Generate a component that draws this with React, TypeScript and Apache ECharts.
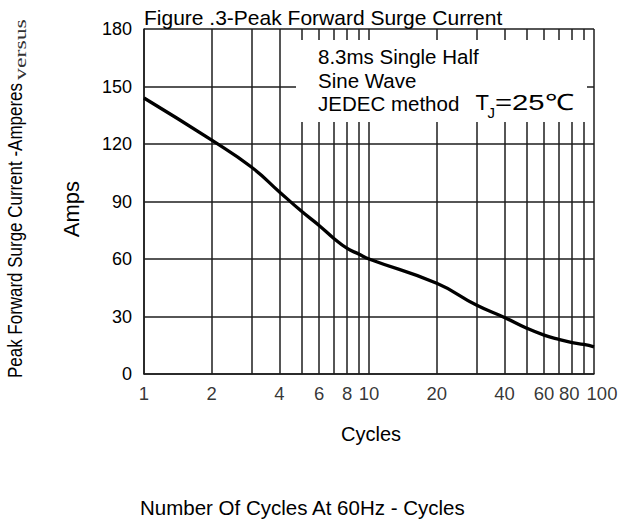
import React, { useEffect, useRef } from 'react';
import * as echarts from 'echarts';

// ---- data ----
const cycles = [1, 2, 3, 4, 5, 6, 7, 8, 9, 10, 20, 30, 40, 50, 60, 70, 80, 90, 100];
const amps = [144, 122, 108, 95, 85, 77.5, 70.6, 65.5, 62.6, 60, 47.3, 36, 29.5, 24, 20.3, 18, 16.4, 15.4, 14.2];
const minorGridCycles = [2, 3, 4, 5, 6, 7, 8, 9, 20, 30, 40, 50, 60, 70, 80, 90];
const xTickLabels = [1, 2, 4, 6, 8, 10, 20, 40, 60, 80, 100];
const yMin = 0;
const yMax = 180;
const yStep = 30;

const titleText = 'Figure .3-Peak Forward Surge Current';
const noteLines = ['8.3ms Single Half', 'Sine Wave', 'JEDEC method'];
const tjMain = 'T';
const tjSub = 'J';
const tjValue = '=25℃';
const yName = 'Amps';
const xName = 'Cycles';
const leftLabel = 'Peak Forward Surge Current -Amperes';
const leftLabelTail = 'versus';
const bottomLabel = 'Number Of Cycles At 60Hz - Cycles';

const FONT = "'Liberation Sans', Arial, Helvetica, sans-serif";
const SERIF = "'Liberation Serif', 'Times New Roman', serif";
const INK = '#000';
const GRID = '#1e1e1e';

export default function App() {
  const ref = useRef<HTMLDivElement>(null);

  useEffect(() => {
    if (!ref.current) return;
    const chart = echarts.init(ref.current, undefined, { renderer: 'svg' });

    const labelOffset = (v: number) => (v === 100 ? [8, 0] : v === 80 ? [-3, 0] : [0, 0]);

    const option: any = {
      animation: false,
      backgroundColor: '#fff',
      grid: { left: 144, right: 27, top: 29, bottom: 148, containLabel: false },
      xAxis: {
        type: 'log',
        logBase: 10,
        min: 1,
        max: 100,
        axisLine: { show: true, lineStyle: { color: GRID, width: 1.5 } },
        axisTick: { show: false },
        axisLabel: { show: false },
        splitLine: { show: true, lineStyle: { color: GRID, width: 1.5 } },
        minorTick: { show: false },
        minorSplitLine: { show: false },
      },
      yAxis: {
        type: 'value',
        min: yMin,
        max: yMax,
        interval: yStep,
        axisLine: { show: true, lineStyle: { color: GRID, width: 1.5 } },
        axisTick: { show: false },
        axisLabel: { color: INK, fontSize: 18, fontFamily: FONT, margin: 12 },
        splitLine: { show: true, lineStyle: { color: GRID, width: 1.5 } },
      },
      series: [
        {
          type: 'scatter',
          z: 1,
          clip: false,
          silent: true,
          symbolSize: 1,
          itemStyle: { color: 'rgba(0,0,0,0)' },
          data: xTickLabels.map((v) => ({ value: [v, yMin], label: { offset: labelOffset(v) } })),
          label: {
            show: true,
            position: 'bottom',
            distance: 9,
            color: INK,
            fontSize: 18.5,
            fontFamily: FONT,
            formatter: (p: any) => String(p.value[0]),
          },
          markLine: {
            silent: true,
            symbol: ['none', 'none'],
            label: { show: false },
            lineStyle: { type: 'solid', color: GRID, width: 1.5 },
            data: minorGridCycles.map((v) => ({ xAxis: v })),
          },
        },
        {
          type: 'line',
          z: 5,
          smooth: 0.5,
          showSymbol: false,
          silent: true,
          lineStyle: { color: INK, width: 3.3 },
          data: cycles.map((c, i) => [c, amps[i]]),
        },
      ],
      graphic: {
        elements: [
          {
            type: 'rect',
            z: 20,
            silent: true,
            shape: { x: 296, y: 40, width: 291, height: 82 },
            style: { fill: '#fff' },
          },
          ...noteLines.map((t, i) => ({
            type: 'text',
            z: 21,
            x: 318,
            y: 56.7 + i * 23.6,
            style: { text: t, fontSize: 20.5, fontFamily: FONT, fill: INK, align: 'left', verticalAlign: 'middle' },
          })),
          {
            type: 'text',
            z: 21,
            x: 475.5,
            y: 102.5,
            style: { text: tjMain, fontSize: 22, fontFamily: FONT, fill: INK, align: 'left', verticalAlign: 'middle' },
          },
          {
            type: 'text',
            z: 21,
            x: 487.5,
            y: 112.5,
            style: { text: tjSub, fontSize: 15, fontFamily: FONT, fill: INK, align: 'left', verticalAlign: 'middle' },
          },
          {
            type: 'text',
            z: 21,
            x: 495,
            y: 102.5,
            scaleX: 1.3,
            style: { text: tjValue, fontSize: 22.5, fontFamily: FONT, fill: INK, align: 'left', verticalAlign: 'middle' },
          },
          {
            type: 'text',
            z: 21,
            x: 144,
            y: 17.5,
            style: { text: titleText, fontSize: 21, fontFamily: FONT, fill: INK, align: 'left', verticalAlign: 'middle' },
          },
          {
            type: 'text',
            z: 21,
            x: 71,
            y: 209,
            rotation: Math.PI / 2,
            style: { text: yName, fontSize: 22, fontFamily: FONT, fill: INK, align: 'center', verticalAlign: 'middle' },
          },
          {
            type: 'text',
            z: 21,
            x: 15,
            y: 378,
            rotation: Math.PI / 2,
            scaleX: 0.87,
            style: { text: leftLabel, fontSize: 19.5, fontFamily: FONT, fill: INK, align: 'left', verticalAlign: 'middle' },
          },
          {
            type: 'text',
            z: 21,
            x: 20,
            y: 80,
            rotation: Math.PI / 2,
            scaleX: 1.4,
            style: { text: leftLabelTail, fontSize: 17, fontFamily: SERIF, fill: '#333', align: 'left', verticalAlign: 'middle' },
          },
          {
            type: 'text',
            z: 21,
            x: 371,
            y: 433.5,
            style: { text: xName, fontSize: 20, fontFamily: FONT, fill: INK, align: 'center', verticalAlign: 'middle' },
          },
          {
            type: 'text',
            z: 21,
            x: 140,
            y: 507,
            style: { text: bottomLabel, fontSize: 20.5, fontFamily: FONT, fill: INK, align: 'left', verticalAlign: 'middle' },
          },
        ],
      },
    };

    chart.setOption(option);
    return () => chart.dispose();
  }, []);

  return (
    <div
      ref={ref}
      style={{ position: 'fixed', left: 0, top: 0, width: 621, height: 522, background: '#fff' }}
    />
  );
}
